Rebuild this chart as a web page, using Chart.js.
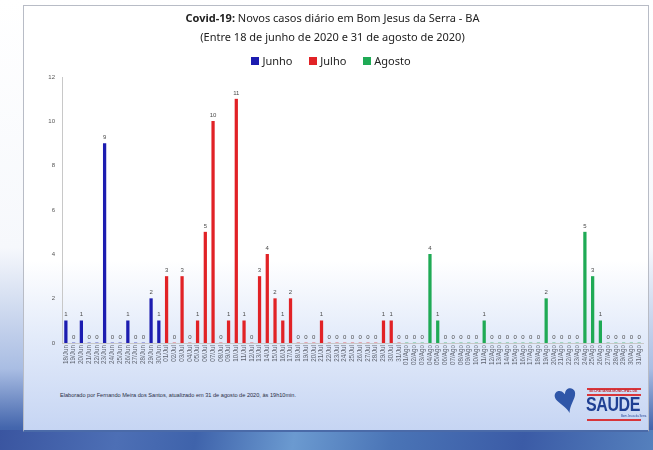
<!DOCTYPE html>
<html>
<head>
<meta charset="utf-8">
<script src="https://cdn.jsdelivr.net/npm/chart.js@4.4.1/dist/chart.umd.min.js"></script>
<style>
  html, body { margin: 0; padding: 0; }
  body {
    width: 653px; height: 450px; position: relative; overflow: hidden;
    background: linear-gradient(to bottom, #ffffff 0%, #f6f8fc 55%, #a9bde3 82%, #4466ad 95%, #37589f 100%);
    font-family: 'Noto Sans', sans-serif;
  }
  #band {
    position: absolute; left: 0; top: 430px; width: 653px; height: 20px;
    background: linear-gradient(100deg, #3a55a0 0%, #4d6fb5 18%, #3f63ab 30%, #6b9ad0 45%, #4a74b6 60%, #3b5ba6 80%, #5580bd 100%);
  }
  #panel {
    position: absolute; left: 23px; top: 5px; width: 624px; height: 424px;
    border: 1px solid #b8bcc6; border-bottom: 2px solid #4a6aa8;
    background: linear-gradient(to bottom, #ffffff 0%, #ffffff 60%, #e3ebfa 78%, #c6d5f3 100%);
  }
  #chartWrap { position: absolute; left: 0; top: 0; width: 653px; height: 380px; }
  .title { position: absolute; left: 0; width: 665px; text-align: center; color: #222; font-size: 11px; white-space: nowrap; }
  #legend { position: absolute; left: 0; width: 662px; top: 53px; text-align: center; font-size: 11px; color: #222; }
  #legend span.box { display: inline-block; width: 8px; height: 8px; margin-right: 3px; vertical-align: 0px; }
  #legend span.item { margin: 0 7px; }
  #footer { position: absolute; left: 60px; top: 392px; font-family: 'Liberation Sans', sans-serif; font-size: 5.6px; color: #2a2f45; white-space: nowrap; }
  #logo { position: absolute; left: 553px; top: 384px; width: 92px; height: 42px; }
  #heart { position: absolute; left: 0; top: -8px; font-size: 42px; color: #2f56a8; transform: rotate(-14deg); line-height: 1; }
  #saude { position: absolute; left: 33px; top: 9px; font-family: 'Liberation Sans', sans-serif; font-weight: bold; font-size: 20px; color: #1f3f93; letter-spacing: -0.5px; transform: scaleX(0.8); transform-origin: left; }
  .redline { position: absolute; left: 34px; width: 54px; height: 2px; background: #d8363b; }
  #sec { position: absolute; left: 36px; top: 5px; font-size: 3.5px; color: #c62a30; font-family: 'Liberation Sans', sans-serif; font-weight: bold; white-space: nowrap; }
  #sub { position: absolute; left: 68px; top: 30px; font-size: 2.8px; color: #1f3f93; font-family: 'Liberation Sans', sans-serif; white-space: nowrap; }
</style>
</head>
<body>
<div id="band"></div>
<div id="panel"></div>
<div id="chartWrap"><canvas id="chart" width="653" height="380"></canvas></div>
<div class="title" style="top:10px;"><b>Covid-19:</b> Novos casos diário em Bom Jesus da Serra - BA</div>
<div class="title" style="top:29px;">(Entre 18 de junho de 2020 e 31 de agosto de 2020)</div>
<div id="legend">
  <span class="item"><span class="box" style="background:#1c1cb0"></span>Junho</span>
  <span class="item"><span class="box" style="background:#e12226"></span>Julho</span>
  <span class="item"><span class="box" style="background:#1faa55"></span>Agosto</span>
</div>
<div id="footer">Elaborado por Fernando Meira dos Santos, atualizado em 31 de agosto de 2020, às 19h10min.</div>
<div id="logo">
  <div id="heart">&#9829;</div>
  <div class="redline" style="top:4px;"></div>
  <div id="sec">SECRETARIA MUNICIPAL DE</div>
  <div class="redline" style="top:10px;"></div>
  <div id="saude">SAUDE</div>
  <div id="sub">Bom Jesus da Serra</div>
  <div class="redline" style="top:35px;"></div>
</div>
<script>
// dias e casos diários
const junhoDias  = [18, 19, 20, 21, 22, 23, 24, 25, 26, 27, 28, 29, 30];
const junhoCasos = [1, 0, 1, 0, 0, 9, 0, 0, 1, 0, 0, 2, 1];

const julhoCasos = [3, 0, 3, 0, 1, 5, 10, 0, 1, 11, 1, 0, 3, 4, 2, 1, 2, 0, 0, 0,
                    1, 0, 0, 0, 0, 0, 0, 0, 1, 1, 0];

const agostoCasos = [0, 0, 0, 4, 1, 0, 0, 0, 0, 0, 1, 0, 0, 0, 0, 0, 0, 0, 2, 0,
                     0, 0, 0, 5, 3, 1, 0, 0, 0, 0, 0];

const pad2 = n => String(n).padStart(2, '0');
const labels = [
  ...junhoDias.map(d => pad2(d) + '/Jun'),
  ...julhoCasos.map((_, i) => pad2(i + 1) + '/Jul'),
  ...agostoCasos.map((_, i) => pad2(i + 1) + '/Ago'),
];

const nJ = junhoCasos.length, nL = julhoCasos.length, nA = agostoCasos.length;
const fill = n => Array(n).fill(null);
const serieJunho  = [...junhoCasos, ...fill(nL + nA)];
const serieJulho  = [...fill(nJ), ...julhoCasos, ...fill(nA)];
const serieAgosto = [...fill(nJ + nL), ...agostoCasos];

// rótulos em cima das barras (inclui os zeros)
const barLabels = {
  id: 'barLabels',
  afterDatasetsDraw(chart) {
    const { ctx } = chart;
    ctx.save();
    ctx.font = '6px "Liberation Sans", sans-serif';
    ctx.fillStyle = '#4a4a4a';
    ctx.textAlign = 'center';
    ctx.textBaseline = 'bottom';
    chart.data.datasets.forEach((ds, di) => {
      const meta = chart.getDatasetMeta(di);
      meta.data.forEach((el, i) => {
        const v = ds.data[i];
        if (v === null || v === undefined) return;
        ctx.fillText(String(v), el.x, el.y - 3);
      });
    });
    ctx.restore();
  }
};

const mkDs = (label, data, color) => ({
  label, data,
  backgroundColor: color,
  borderWidth: 0,
  barThickness: 2.6,
  grouped: false,
});

new Chart(document.getElementById('chart'), {
  type: 'bar',
  data: {
    labels,
    datasets: [
      mkDs('Junho',  serieJunho,  '#1c1cb0'),
      mkDs('Julho',  serieJulho,  '#e12226'),
      mkDs('Agosto', serieAgosto, '#1faa55'),
    ],
  },
  options: {
    responsive: false,
    animation: false,
    layout: { padding: { top: 77, left: 32, right: 10, bottom: 6 } },
    scales: {
      x: {
        grid: { display: false, drawTicks: false },
        border: { color: '#c8c8c8' },
        ticks: {
          autoSkip: false, minRotation: 90, maxRotation: 90, padding: 2,
          color: '#5f6470', font: { size: 6.3, family: 'Liberation Sans' },
        },
        afterFit(scale) { scale.height = 31; },
      },
      y: {
        min: 0, max: 12,
        grid: { display: false, drawOnChartArea: false, tickLength: 3, color: '#bbb' },
        border: { color: '#c8c8c8' },
        ticks: {
          stepSize: 2, padding: 4,
          color: '#555', font: { size: 6, family: 'Liberation Sans' },
        },
        afterFit(scale) { scale.width = 30; },
      },
    },
    plugins: {
      legend: { display: false },
      tooltip: { enabled: false },
    },
  },
  plugins: [barLabels],
});
</script>
</body>
</html>
